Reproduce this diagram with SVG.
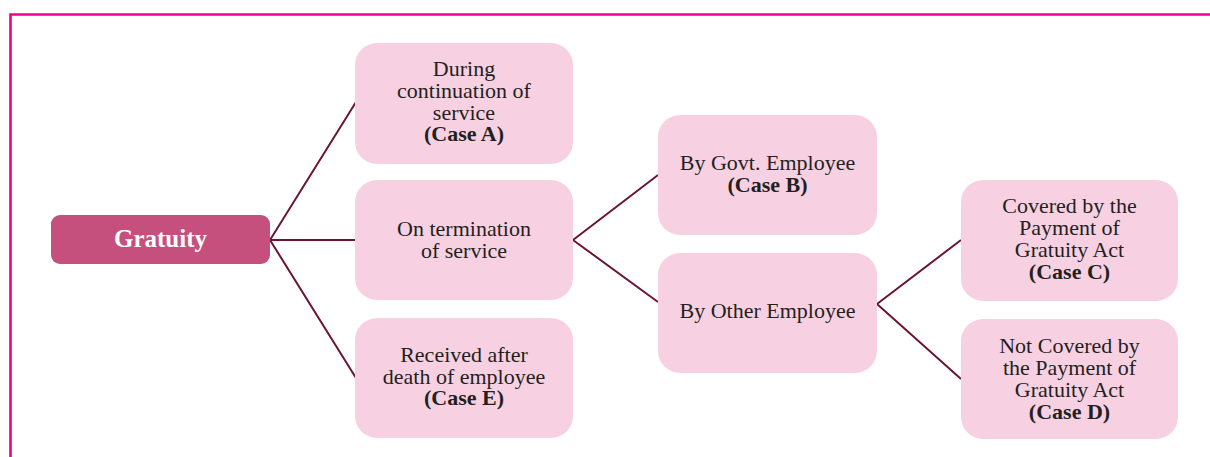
<svg xmlns="http://www.w3.org/2000/svg" width="1210" height="457" viewBox="0 0 1210 457">
<style>
.box{fill:#f7d1e2}
.t{font-family:"Liberation Serif","Times New Roman",serif;font-size:22px;fill:#231f20;text-anchor:middle}
.b{font-weight:bold}
.c{stroke:#6b1536;stroke-width:2;fill:none}
</style>
<rect width="1210" height="457" fill="#ffffff"/>
<path d="M10.5 457 V14.5 H1210" fill="none" stroke="#ec008c" stroke-width="2.6"/>
<g id="connectors">
<path class="c" d="M270 240 L356 102 M270 240 H355 M270 240 L356 378"/>
<path class="c" d="M573 240 L658 175 M573 240 L658 302"/>
<path class="c" d="M877 304 L961 240 M877 304 L961 379"/>
</g>
<g id="gratuity">
<rect x="51" y="215" width="219" height="49" rx="9" fill="#c5507e"/>
<text x="160.5" y="247" class="t b" style="fill:#ffffff;font-size:25px">Gratuity</text>
</g>
<g id="caseA">
<rect class="box" x="355" y="43" width="218" height="121" rx="22"/>
<text class="t" x="464" y="76">During</text>
<text class="t" x="464" y="98">continuation of</text>
<text class="t" x="464" y="120">service</text>
<text class="t b" x="464" y="141">(Case A)</text>
</g>
<g id="termination">
<rect class="box" x="355" y="180" width="218" height="120" rx="22"/>
<text class="t" x="464" y="236">On termination</text>
<text class="t" x="464" y="258">of service</text>
</g>
<g id="caseE">
<rect class="box" x="355" y="318" width="218" height="120" rx="22"/>
<text class="t" x="464" y="362">Received after</text>
<text class="t" x="464" y="384">death of employee</text>
<text class="t b" x="464" y="405">(Case E)</text>
</g>
<g id="caseB">
<rect class="box" x="658" y="115" width="219" height="120" rx="22"/>
<text class="t" x="767.5" y="170">By Govt. Employee</text>
<text class="t b" x="767.5" y="192">(Case B)</text>
</g>
<g id="other">
<rect class="box" x="658" y="253" width="219" height="120" rx="22"/>
<text class="t" x="767.5" y="318">By Other Employee</text>
</g>
<g id="caseC">
<rect class="box" x="961" y="180" width="217" height="121" rx="22"/>
<text class="t" x="1069.5" y="213">Covered by the</text>
<text class="t" x="1069.5" y="235">Payment of</text>
<text class="t" x="1069.5" y="257">Gratuity Act</text>
<text class="t b" x="1069.5" y="279">(Case C)</text>
</g>
<g id="caseD">
<rect class="box" x="961" y="319" width="217" height="120" rx="22"/>
<text class="t" x="1069.5" y="353">Not Covered by</text>
<text class="t" x="1069.5" y="375">the Payment of</text>
<text class="t" x="1069.5" y="397">Gratuity Act</text>
<text class="t b" x="1069.5" y="419">(Case D)</text>
</g>
</svg>
